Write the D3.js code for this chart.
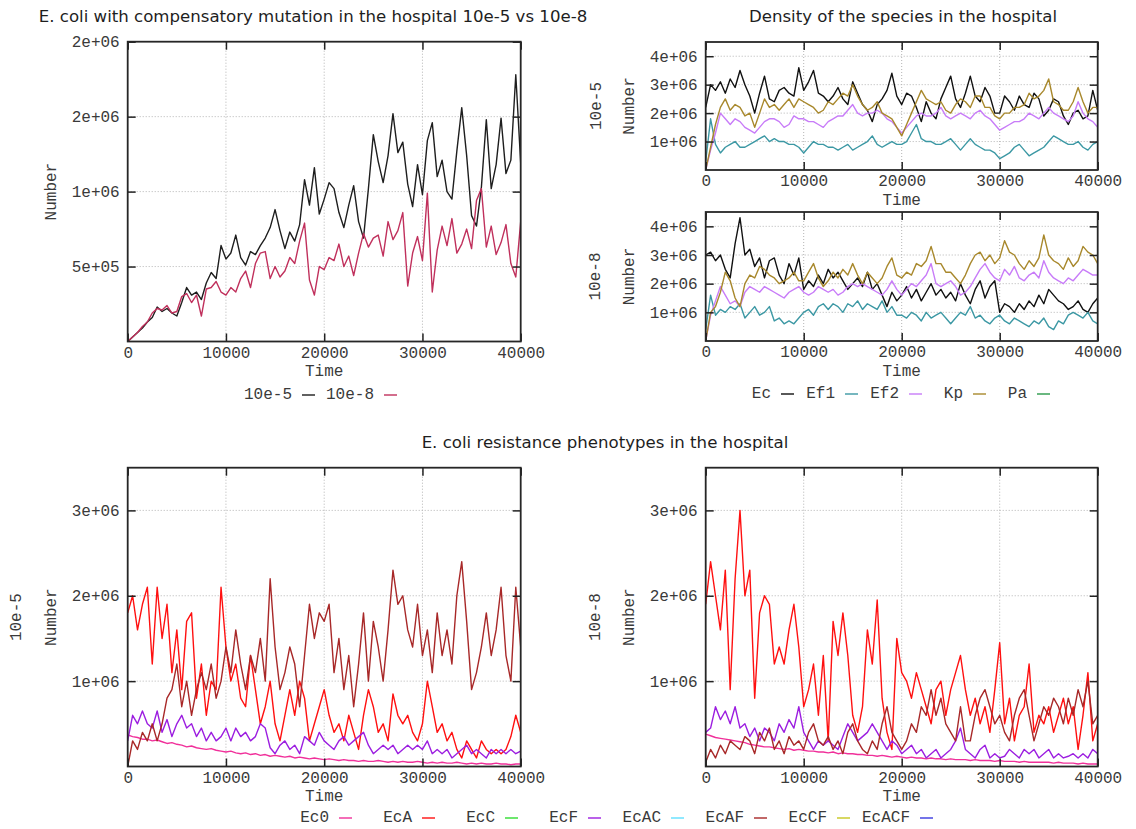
<!DOCTYPE html>
<html>
<head>
<meta charset="utf-8">
<script src="https://cdn.jsdelivr.net/npm/d3@7"></script>
<style>
	body { margin: 0; background: #fff; }
	svg text { fill: #3a3a3a; }
	.mono { font-family: "Liberation Mono", "Courier New", monospace; font-size: 16px; }
	.title { font-family: "DejaVu Sans", Verdana, sans-serif; font-size: 16.6px; fill: #1e1e1e; }
</style>
</head>
<body>
<svg width="1136" height="829"></svg>
<script>
// sample times (every 500 steps), values below are in units of 1e5
var time = d3.range(0, 40001, 500);
var unit = 1e5;

var xTickValues = [0, 10000, 20000, 30000, 40000];
var xTickLabels = ['0', '10000', '20000', '30000', '40000'];

var compYTicks = [5e5, 1e6, 1.5e6, 2e6];
var compYLabels = ['5e+05', '1e+06', '2e+06', '2e+06'];
var densYTicks = [1e6, 2e6, 3e6, 4e6];
var densYLabels = ['1e+06', '2e+06', '3e+06', '4e+06'];
var phenYTicks = [1e6, 2e6, 3e6];
var phenYLabels = ['1e+06', '2e+06', '3e+06'];

var compNames = ['10e-5', '10e-8'];
var densNames = ['Ec', 'Ef1', 'Ef2', 'Kp', 'Pa'];
var phenNames = ['Ec0', 'EcA', 'EcC', 'EcF', 'EcAC', 'EcAF', 'EcCF', 'EcACF'];

var compColors = ['#1e1e1e', '#c0305c'];
var densColors = ['#111111', '#3c98a4', '#c87cf8', '#a8882c', '#2a9a4a'];
var phenColors = ['#f0309a', '#ff1010', '#30dd30', '#9c1ee0', '#60e0ff', '#a82828', '#c8c820', '#3838e0'];

// E. coli with compensatory mutation
var comp_1e5 = [0,0.3,0.6,0.9,1.3,1.6,2.3,2.0,2.2,1.9,
	1.7,2.6,3.6,3.1,3.3,2.8,3.9,4.6,4.2,6.4,
	5.5,5.9,7.1,5.6,5.1,6.0,5.8,6.4,6.9,7.6,
	8.8,7.4,6.2,7.3,6.7,7.8,10.8,9.1,11.6,8.5,
	9.5,10.6,10.2,8.6,7.6,9.1,10.4,8.0,6.9,10.2,
	13.8,12.0,10.6,12.4,15.2,12.6,13.3,10.5,9.0,11.8,
	9.8,13.4,14.6,11.0,12.1,10.0,9.5,12.7,15.6,12.4,
	8.4,7.7,10.3,14.8,10.2,11.8,14.9,11.2,12.1,17.8,
	11.9];
var comp_1e8 = [0,0.3,0.6,1.0,1.3,1.9,2.2,2.1,2.4,1.9,
	2.0,3.0,3.2,2.6,3.1,1.7,3.5,3.6,4.0,3.3,
	3.1,3.6,3.3,4.2,4.7,3.6,5.2,5.9,6.0,4.2,
	5.0,4.3,4.7,5.6,5.2,6.7,7.9,4.1,3.1,5.0,
	4.8,5.6,5.4,6.5,5.0,5.7,4.4,5.9,7.2,6.3,
	6.9,7.1,5.7,8.0,6.8,7.4,8.6,3.7,5.9,7.0,
	5.4,9.9,3.3,6.1,7.7,6.4,8.2,5.9,6.5,7.5,
	6.2,9.4,10.2,6.3,7.7,5.8,6.6,7.8,5.2,4.3,
	8.0];

// density of the species, 10e-5
var dens5_Ec = [22,30,28,31,27,32,29,35,30,26,
	20,27,33,25,24,28,29,27,26,36,
	28,31,35,27,26,24,26,29,25,23,
	31,27,23,21,17,23,25,28,34,26,
	23,27,26,22,17,24,20,18,25,29,
	33,25,22,27,33,26,24,29,26,20,
	20,26,24,21,26,23,22,27,25,19,
	21,25,24,19,16,20,21,18,19,28,
	21];
var dens5_Ef1 = [3,18,9,6,8,9,10,8,8,9,
	10,11,12,10,11,10,10,9,9,8,
	6,8,10,9,9,8,8,7,8,9,
	7,8,9,10,12,9,8,9,10,9,
	9,10,13,16,11,10,10,9,9,10,
	11,9,7,9,11,9,8,7,7,6,
	4,5,6,8,9,7,5,6,7,8,
	10,12,11,10,9,9,10,8,7,9,
	10];
var dens5_Ef2 = [0,7,13,20,18,16,18,17,15,14,
	13,15,17,18,18,17,15,16,19,18,
	18,17,17,16,15,17,18,19,19,21,
	23,20,19,20,20,21,20,18,17,15,
	13,15,17,19,20,19,19,20,22,19,
	18,19,20,19,18,20,21,19,18,16,
	14,15,16,17,17,18,20,19,18,20,
	22,20,19,18,17,19,24,20,18,17,
	15];
var dens5_Kp = [0,8,16,22,25,21,23,22,19,20,
	15,20,25,22,23,21,23,25,22,25,
	24,23,22,20,21,24,23,25,27,26,
	30,26,23,21,22,24,20,19,18,15,
	12,16,20,24,28,25,24,23,24,21,
	20,23,25,24,22,26,26,22,22,19,
	18,20,20,22,22,23,27,25,26,28,
	32,24,23,21,21,24,29,24,20,22,
	22];
var dens5_Pa = [];

// density of the species, 10e-8
var dens8_Ec = [30,31,28,30,25,22,34,43,30,32,
	26,29,22,28,29,23,20,27,23,29,
	18,21,19,23,20,25,22,24,21,18,
	20,22,19,24,18,20,16,12,17,14,
	16,19,15,18,14,17,20,16,18,15,
	17,14,20,16,13,18,21,15,19,21,
	10,13,12,10,13,11,14,12,16,13,
	18,16,14,13,11,12,14,11,10,13,
	15];
var dens8_Ef1 = [4,16,9,11,10,12,11,13,8,10,
	12,9,10,12,7,8,6,7,6,8,
	10,11,9,12,13,11,13,12,10,13,
	12,14,11,13,12,11,14,10,12,9,
	9,8,10,9,7,10,8,9,10,8,
	6,8,10,9,12,8,9,7,6,8,
	9,7,6,8,7,6,5,7,6,8,
	5,4,7,6,9,10,9,8,10,7,
	6];
var dens8_Ef2 = [0,9,14,19,16,13,14,12,17,19,
	18,17,19,18,17,16,15,17,18,19,
	17,16,17,19,18,17,18,16,17,19,
	20,19,20,19,18,17,16,18,21,18,
	16,18,20,19,21,23,27,20,19,20,
	21,19,16,17,19,22,25,27,24,22,
	21,25,23,26,22,21,23,24,22,28,
	24,22,21,20,22,21,23,25,24,23,
	23];
var dens8_Kp = [0,10,12,17,24,21,15,12,20,23,
	22,26,25,23,22,20,21,22,24,21,
	21,24,27,22,19,21,24,22,25,23,
	27,23,20,24,22,20,22,26,29,23,
	22,24,23,27,26,28,33,27,27,24,
	24,22,20,23,27,30,31,28,30,27,
	29,35,31,30,27,25,28,26,29,37,
	30,28,27,25,29,26,28,33,31,30,
	27];
var dens8_Pa = [];

// resistance phenotypes, 10e-5
var phen5_Ec0 = [3.7,3.5,3.4,3.2,3.2,3.0,3.1,2.9,2.7,2.8,
	2.6,2.5,2.3,2.4,2.2,2.1,2.0,2.1,1.9,1.8,
	1.7,1.8,1.6,1.5,1.6,1.4,1.5,1.3,1.4,1.2,
	1.3,1.2,1.1,1.2,1.0,1.1,1.0,0.9,1.0,0.9,
	0.8,0.9,0.8,0.7,0.8,0.7,0.7,0.6,0.7,0.6,
	0.6,0.7,0.6,0.5,0.6,0.5,0.6,0.5,0.5,0.6,
	0.5,0.4,0.5,0.4,0.5,0.4,0.4,0.5,0.4,0.3,
	0.4,0.3,0.4,0.3,0.3,0.4,0.3,0.3,0.2,0.3,
	0.3];
var phen5_EcA = [18,20,16,19,21,12,21,15,19,11,
	16,9,17,18,8,12,6,10,9,21,
	14,10,12,8,7,13,9,5,7,10,
	5,3,6,9,6,10,8,3,5,7,
	9,6,4,5,3,6,4,2,6,9,
	7,4,5,3,8.5,6,5,6,4,3,
	5,10,7,4,5,3,4,2,1,3,
	2,1,3,2,1.5,2,1.5,2,3.5,6,
	4];
var phen5_EcC = [];
var phen5_EcF = [3,6,5,6.5,5,4.5,6.5,4,5.5,3.5,
	5,6,4.5,5,3.5,4.5,3,4,3,3.5,
	4.5,3,4.5,3.5,4,3,3.5,5,4.5,2.2,
	1.5,2.5,3,2,2.5,1.5,3.5,3,2.5,4,
	3,2.5,2,3,3.5,2.5,3,3.5,4,2.5,
	1.5,2,2.5,2,2.5,1.5,2,2.5,2,2.5,
	2,3,1.5,2,1.5,2,1,1.5,2,2.5,
	1.5,2,1.5,1,2,1.5,2,1.5,2,1.5,
	1.8];
var phen5_EcAC = [];
var phen5_EcAF = [0,3,2,4,3,5,3,5,8,9,
	12,7,10,6,9,11,9,12,8,10,
	14,11,16,12,9,13,11,15,10,22,
	14,9,11,14,12,7,13,19,15,18,
	17,19,11,15,9,13,7,12,18,10,
	17,14,10,16,23,19,20,16,14,19,
	13,16,11,18,13,16,12,20,24,17,
	9,11,14,18,13,16,21,13,10,21,
	14];
var phen5_EcCF = [];
var phen5_EcACF = [];

// resistance phenotypes, 10e-8
var phen8_Ec0 = [3.8,3.6,3.4,3.3,3.2,3.1,3.0,2.9,2.8,2.6,
	2.5,2.4,2.3,2.3,2.2,2.1,2.0,2.1,1.9,2.0,
	1.9,1.8,1.8,1.7,1.7,1.6,1.7,1.5,1.6,1.5,
	1.5,1.4,1.4,1.3,1.3,1.2,1.3,1.2,1.1,1.2,
	1.1,1.0,1.1,1.0,1.0,0.9,1.0,0.9,0.9,0.8,
	0.9,0.8,0.8,0.8,0.7,0.8,0.7,0.7,0.7,0.6,
	0.7,0.6,0.6,0.6,0.5,0.6,0.5,0.5,0.5,0.5,
	0.5,0.4,0.5,0.4,0.4,0.4,0.3,0.4,0.3,0.3,
	0.3];
var phen8_EcA = [19,24,20,16,23,9,22,30,20,23,
	8,18,20,19,12,14,12,16,19,14,
	7,9,12,6,13,3,17,13,18,13,
	6,4,7,16,12,19.5,8,4,2,15,
	11,10,8,11,9,7,5,9,10,6,
	9,11,13,9,6,8,5,7,4,9,
	14.5,5,8,3,6,7,12,4,6,5,
	7,4,6,8,5,7,2,6,11,3,
	5];
var phen8_EcC = [];
var phen8_EcF = [4,4.5,7,5.5,6.5,5,7,4.5,5,3.5,
	4.5,3,4.5,4,3,5,4,5.5,4.5,7,
	4,3,2,3,2.5,3,2.5,2,3.5,5,
	4,3,3.5,4,5,4,3,2,3,2.5,
	1.5,2,2.5,1.5,2,1,1.5,2,1,1.5,
	2,3,4.5,2,1.5,1,2,2.5,1,1.5,
	1,1.2,2,1.5,1,2,1.5,2,1,1.5,
	2,1,1.5,1,1.2,1.5,1,1.5,1,2,
	1.5];
var phen8_EcAC = [];
var phen8_EcAF = [0.5,2,1,2.5,1.5,3,2.5,2,3.5,3,
	1.5,4,3,4.5,2,3,1.5,3.5,2.5,3,
	2,4,5,3,2.5,3.5,2,3,1.5,4,
	5,3,2,1.5,3,2,5,7,4,3,
	2,3,5,4,7,6,9,6,8,5,
	4,3,7,3,3,6,8,9,7,5,
	6,4,3,6,8,9,6,3,5,7,
	6,8,7,5,8,6,9,7,10,5,
	6];
var phen8_EcCF = [];
var phen8_EcACF = [];

var svg = d3.select('svg');

var panels = [
	{ left: 127.7, right: 520.7, top: 41.7, bottom: 341.5, ymax: 2e6,
		yTicks: compYTicks, yLabels: compYLabels, colors: compColors,
		series: [comp_1e5, comp_1e8], numberX: 52, row: null },
	{ left: 705.7, right: 1097.7, top: 42, bottom: 170, ymax: 4.5e6,
		yTicks: densYTicks, yLabels: densYLabels, colors: densColors,
		series: [dens5_Ec, dens5_Ef1, dens5_Ef2, dens5_Kp, dens5_Pa], numberX: 630, row: '10e-5', rowX: 597 },
	{ left: 705.7, right: 1097.7, top: 212, bottom: 341, ymax: 4.5e6,
		yTicks: densYTicks, yLabels: densYLabels, colors: densColors,
		series: [dens8_Ec, dens8_Ef1, dens8_Ef2, dens8_Kp, dens8_Pa], numberX: 630, row: '10e-8', rowX: 596 },
	{ left: 127.7, right: 520.7, top: 467.7, bottom: 766.5, ymax: 3.5e6,
		yTicks: phenYTicks, yLabels: phenYLabels, colors: phenColors,
		series: [phen5_Ec0, phen5_EcA, phen5_EcC, phen5_EcF, phen5_EcAC, phen5_EcAF, phen5_EcCF, phen5_EcACF],
		numberX: 52, row: '10e-5', rowX: 17 },
	{ left: 705.7, right: 1097.7, top: 467.7, bottom: 766.5, ymax: 3.5e6,
		yTicks: phenYTicks, yLabels: phenYLabels, colors: phenColors,
		series: [phen8_Ec0, phen8_EcA, phen8_EcC, phen8_EcF, phen8_EcAC, phen8_EcAF, phen8_EcCF, phen8_EcACF],
		numberX: 630, row: '10e-8', rowX: 596 }
];

function drawPanel(p, idx){
	var x = d3.scaleLinear().domain([0, 40000]).range([p.left, p.right]);
	var y = d3.scaleLinear().domain([0, p.ymax]).range([p.bottom, p.top]);
	var g = svg.append('g');

	// dotted grid
	g.selectAll('.gx')
		.data(xTickValues.filter(function(v){ return v > 0 && v < 40000; }))
		.enter().append('line')
			.attr('x1', x).attr('x2', x)
			.attr('y1', p.top).attr('y2', p.bottom)
			.attr('stroke', '#b4b4b4').attr('stroke-dasharray', '1,2');
	g.selectAll('.gy')
		.data(p.yTicks.filter(function(v){ return v < p.ymax; }))
		.enter().append('line')
			.attr('x1', p.left).attr('x2', p.right)
			.attr('y1', y).attr('y2', y)
			.attr('stroke', '#b4b4b4').attr('stroke-dasharray', '1,2');

	// series
	var clipId = 'clip' + idx;
	svg.append('clipPath').attr('id', clipId).append('rect')
		.attr('x', p.left).attr('y', p.top)
		.attr('width', p.right - p.left).attr('height', p.bottom - p.top);

	var line = d3.line()
		.x(function(d, i){ return x(time[i]); })
		.y(function(d){ return y(d * unit); });

	p.series.forEach(function(vals, i){
		if( vals.length == 0 ) return;
		g.append('path')
			.attr('d', line(vals))
			.attr('clip-path', 'url(#' + clipId + ')')
			.attr('fill', 'none')
			.attr('stroke', p.colors[i])
			.attr('stroke-width', 1.4)
			.attr('stroke-linejoin', 'round');
	});

	// axes with inward ticks, mirrored on top/right
	function styleAxis(a){
		a.select('.domain').remove();
		a.selectAll('.tick line').attr('stroke', '#222').attr('stroke-width', 1.5);
		a.selectAll('text').attr('class', 'mono').attr('fill', '#3a3a3a');
	}

	g.append('g').attr('transform', 'translate(0,' + p.bottom + ')')
		.call(d3.axisBottom(x).tickValues(xTickValues)
			.tickFormat(function(d, i){ return xTickLabels[i]; })
			.tickSize(-8).tickPadding(5))
		.call(styleAxis);
	g.append('g').attr('transform', 'translate(0,' + p.top + ')')
		.call(d3.axisTop(x).tickValues(xTickValues).tickFormat('').tickSize(-8))
		.call(styleAxis);
	g.append('g').attr('transform', 'translate(' + p.left + ',0)')
		.call(d3.axisLeft(y).tickValues(p.yTicks)
			.tickFormat(function(d, i){ return p.yLabels[i]; })
			.tickSize(-8).tickPadding(8))
		.call(styleAxis);
	g.append('g').attr('transform', 'translate(' + p.right + ',0)')
		.call(d3.axisRight(y).tickValues(p.yTicks).tickFormat('').tickSize(-8))
		.call(styleAxis);

	// border
	g.append('rect')
		.attr('x', p.left).attr('y', p.top)
		.attr('width', p.right - p.left).attr('height', p.bottom - p.top)
		.attr('fill', 'none').attr('stroke', '#262626').attr('stroke-width', 1.8);

	// axis titles
	var cy = (p.top + p.bottom) / 2;
	g.append('text').attr('class', 'mono')
		.attr('x', (p.left + p.right) / 2).attr('y', p.bottom + 30.5)
		.attr('text-anchor', 'middle').attr('dominant-baseline', 'central')
		.text('Time');
	g.append('text').attr('class', 'mono')
		.attr('transform', 'translate(' + p.numberX + ',' + cy + ') rotate(-90)')
		.attr('text-anchor', 'middle').attr('dominant-baseline', 'central')
		.text('Number');
	if( p.row ){
		g.append('text').attr('class', 'mono')
			.attr('transform', 'translate(' + p.rowX + ',' + cy + ') rotate(-90)')
			.attr('text-anchor', 'middle').attr('dominant-baseline', 'central')
			.text(p.row);
	}
}

panels.forEach(drawPanel);

// horizontal keys: text right aligned, short sample line after it
function drawKey(names, colors, firstEnd, step, yc){
	var k = svg.append('g');
	names.forEach(function(name, i){
		var xe = firstEnd + i * step;
		k.append('text').attr('class', 'mono')
			.attr('x', xe).attr('y', yc)
			.attr('text-anchor', 'end').attr('dominant-baseline', 'central')
			.text(name);
		k.append('line')
			.attr('x1', xe + 10).attr('x2', xe + 23)
			.attr('y1', yc).attr('y2', yc)
			.attr('stroke', colors[i]).attr('stroke-width', 1.4);
	});
}

drawKey(compNames, compColors, 292, 82, 395);
drawKey(densNames, densColors, 771, 64, 394);
drawKey(phenNames, phenColors, 329, 83, 818);

// titles
svg.append('text').attr('class', 'title')
	.attr('x', 313).attr('y', 22).attr('text-anchor', 'middle')
	.text('E. coli with compensatory mutation in the hospital 10e-5 vs 10e-8');
svg.append('text').attr('class', 'title')
	.attr('x', 903).attr('y', 22).attr('text-anchor', 'middle')
	.text('Density of the species in the hospital');
svg.append('text').attr('class', 'title')
	.attr('x', 605).attr('y', 448).attr('text-anchor', 'middle')
	.text('E. coli resistance phenotypes in the hospital');
</script>
</body>
</html>
